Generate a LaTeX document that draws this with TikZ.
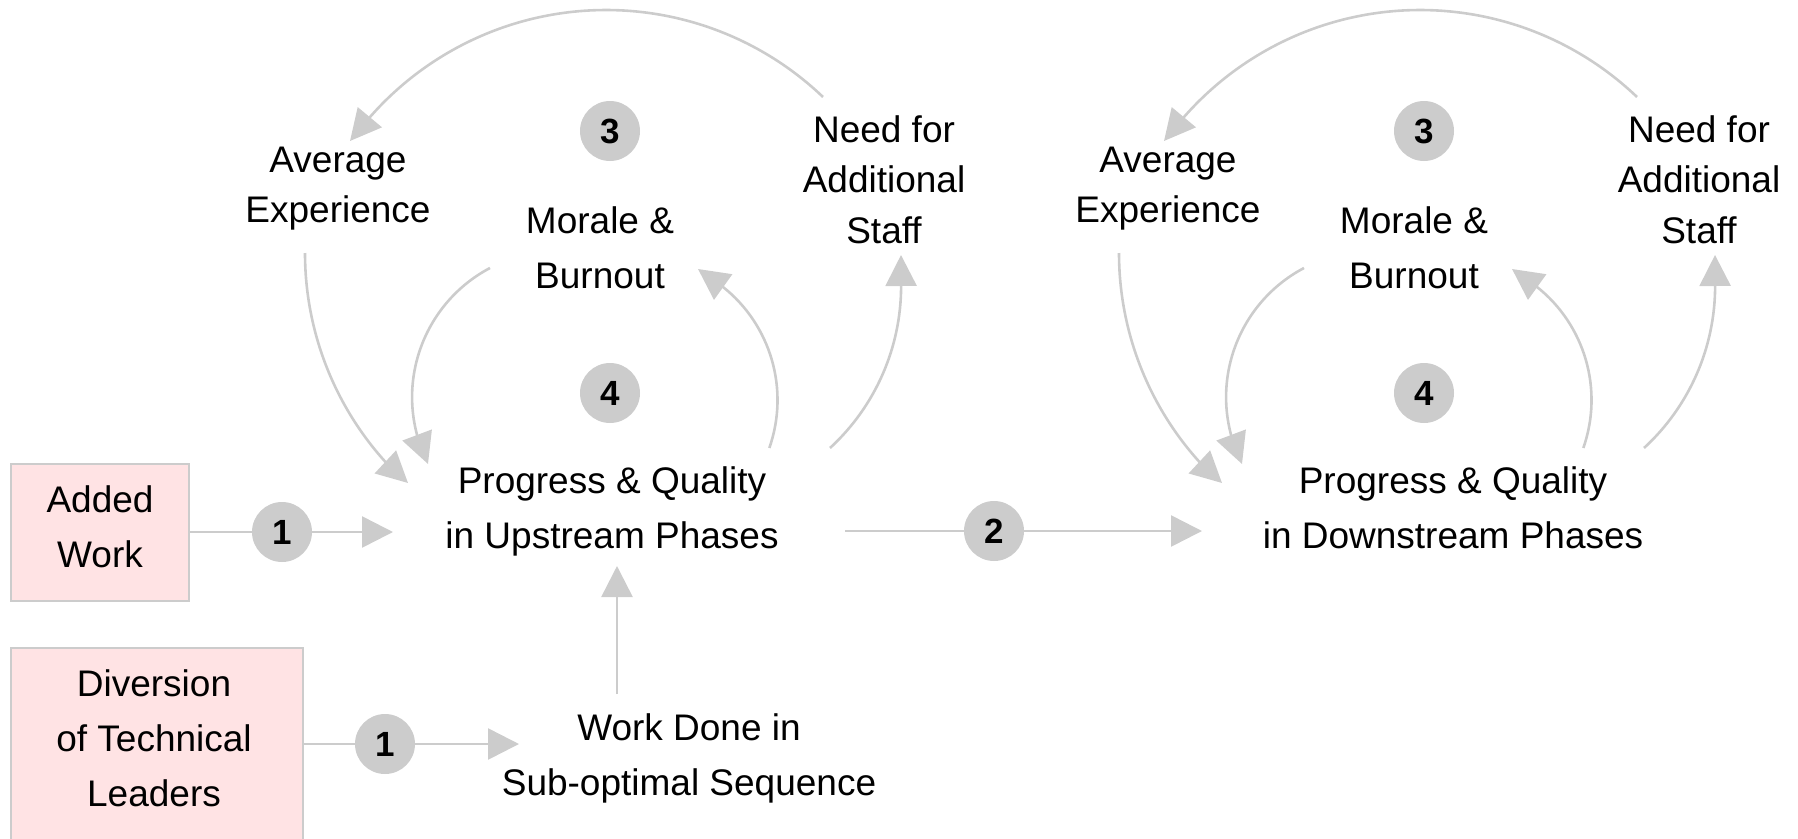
\documentclass[tikz,border=0pt]{standalone}
\usepackage{fontspec}
\setmainfont{Liberation Sans}
\usetikzlibrary{arrows.meta}
\definecolor{lg}{HTML}{CCCCCC}
\definecolor{pinkbox}{HTML}{FFE3E4}
\begin{document}
\begin{tikzpicture}[x=1pt,y=-1pt,
  conn/.style={draw=lg, line width=2.6pt, -{Triangle[length=31pt,width=31pt]}},
  txt/.style={inner sep=0pt, align=center, font=\fontsize{37}{55}\selectfont},
  txtb/.style={inner sep=0pt, align=center, font=\fontsize{37}{50.5}\selectfont},
  num/.style={circle, fill=lg, inner sep=0pt, minimum size=60pt, font=\fontsize{35}{40}\selectfont\bfseries},
  ext/.style={draw=lg, line width=2.6pt, fill=pinkbox, inner sep=0pt, align=center, font=\fontsize{37}{55}\selectfont}]
\useasboundingbox (0,0) rectangle (1798,838);

% external boxes
\node[ext, minimum width=178pt, minimum height=137pt] (added) at (100,532.5)
  {\strut Added\\\strut Work\rule[-24.5pt]{0pt}{24.5pt}};
\node[ext, minimum width=292pt, minimum height=198pt] (div) at (157,747)
  {\strut Diversion\kern6pt\\\strut of Technical\kern6pt\\\strut Leaders\kern6pt\rule[-29pt]{0pt}{29pt}};

% variables, upstream group
\node[txt] (up) at (612,509.5) {\strut Progress \& Quality\\\strut in Upstream Phases};
\node[txt] (wd) at (689,756.5) {\strut Work Done in\\\strut Sub-optimal Sequence};
\node[txtb] (avg) at (338,187.3) {\strut Average\\\strut Experience};
\node[txt] (mor) at (600,249.5) {\strut Morale \&\\\strut Burnout};
\node[txtb] (need) at (884,182.6) {\strut Need for\\\strut Additional\\\strut Staff};

% variables, downstream group
\node[txt] (down) at (1453,509.5) {\strut Progress \& Quality\\\strut in Downstream Phases};
\node[txtb] (avgb) at (1168,187.3) {\strut Average\\\strut Experience};
\node[txt] (morb) at (1414,249.5) {\strut Morale \&\\\strut Burnout};
\node[txtb] (needb) at (1699,182.6) {\strut Need for\\\strut Additional\\\strut Staff};

% connector end points
\coordinate (t1a) at (393,532);
\coordinate (t1b) at (519,744);
\coordinate (wds) at (617,694);
\coordinate (wdt) at (617,566);
\coordinate (s2) at (845,531);
\coordinate (t2) at (1202,531);

\coordinate (a5s) at (823,97);    \coordinate (a5t) at (350,141);
\coordinate (a6s) at (305,253);   \coordinate (a6t) at (408,483);
\coordinate (a7s) at (490,268);   \coordinate (a7t) at (428,464);
\coordinate (a8s) at (769.3,448); \coordinate (a8t) at (698,269);
\coordinate (a9s) at (830,448);   \coordinate (a9t) at (901,255);

\coordinate (b5s) at (1637,97);    \coordinate (b5t) at (1164,141);
\coordinate (b6s) at (1119,253);   \coordinate (b6t) at (1222,483);
\coordinate (b7s) at (1304,268);   \coordinate (b7t) at (1242,464);
\coordinate (b8s) at (1583.3,448); \coordinate (b8t) at (1512,269);
\coordinate (b9s) at (1644,448);   \coordinate (b9t) at (1715,255);

% straight connectors
\draw[conn] (added.east |- t1a) -- (t1a);
\draw[conn] (div.east |- t1b) -- (t1b);
\draw[conn] (wds) -- (wdt);
\draw[conn] (s2) -- (t2);

% upstream loops
\draw[conn] (a5s) arc[start angle=-46.3, end angle=-138.6, radius=314] -- (a5t);
\draw[conn] (a6s) arc[start angle=180, end angle=137.9, radius=311.7] -- (a6t);
\draw[conn] (a7s) arc[start angle=242.2, end angle=165, radius=146] -- (a7t);
\draw[conn] (a8s) arc[start angle=19.4, end angle=-51.7, radius=144.5] -- (a8t);
\draw[conn] (a9s) arc[start angle=47.4, end angle=0, radius=220] -- (a9t);

% downstream loops
\draw[conn] (b5s) arc[start angle=-46.3, end angle=-138.6, radius=314] -- (b5t);
\draw[conn] (b6s) arc[start angle=180, end angle=137.9, radius=311.7] -- (b6t);
\draw[conn] (b7s) arc[start angle=242.2, end angle=165, radius=146] -- (b7t);
\draw[conn] (b8s) arc[start angle=19.4, end angle=-51.7, radius=144.5] -- (b8t);
\draw[conn] (b9s) arc[start angle=47.4, end angle=0, radius=220] -- (b9t);

% numbered markers
\node[num] (c1a) at (282,532) {1};
\node[num] (c1b) at (385,744) {1};
\node[num] (c2) at (994,531) {2};
\node[num] (c3a) at (610,131) {3};
\node[num] (c4a) at (610,393) {4};
\node[num] (c3b) at (1424,131) {3};
\node[num] (c4b) at (1424,393) {4};
\end{tikzpicture}
\end{document}
